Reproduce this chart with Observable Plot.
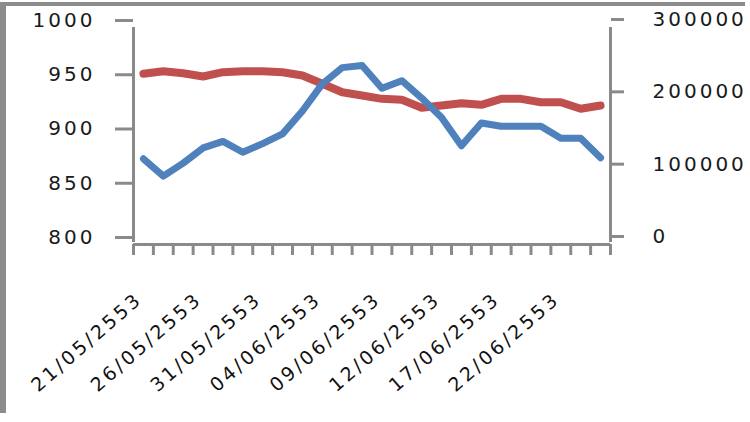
<!DOCTYPE html>
<html>
<head>
<meta charset="utf-8">
<script src="https://cdn.jsdelivr.net/npm/d3@7"></script>
<script src="https://cdn.jsdelivr.net/npm/@observablehq/plot@0.6"></script>
<style>
  html, body { margin: 0; padding: 0; background: #fff; }
  #wrap { position: relative; width: 750px; height: 422px; overflow: hidden; }
  #frame { position: absolute; left: 0; top: 2px; width: 745px; height: 411px;
           border-top: 4px solid #8c8c8c; border-left: 6px solid #8c8c8c; box-sizing: border-box; }
  #chart { position: absolute; left: 0; top: 0; }
  #chart svg text { letter-spacing: 3px; }
</style>
</head>
<body>
<div id="wrap"><div id="frame"></div><div id="chart"></div></div>
<script>
// Category date labels (every 3rd category is labelled)
const dateLabels = ["21/05/2553", "26/05/2553", "31/05/2553", "04/06/2553", "09/06/2553", "12/06/2553", "17/06/2553", "22/06/2553"];
const labelStep = 3;

// Blue series (left axis)
const blueValues = [879, 863, 875, 889, 895, 885, 893, 902, 923, 948, 963, 965, 944, 951, 935, 917, 891, 912, 909, 909, 909, 898, 898, 880];
// Red series (right axis)
const redValues = [236000, 239600, 236800, 232300, 238200, 239600, 239600, 238200, 233600, 222200, 210500, 206000, 201400, 200000, 189000, 192200, 195300, 193100, 201400, 201400, 196700, 196700, 187600, 192200];

const leftTicks = [800, 850, 900, 950, 1000];
const rightTicks = [0, 100000, 200000, 300000];

const n = blueValues.length;
const r2l = d3.scaleLinear([0, 300000], [800, 1000]);

const blueData = blueValues.map((v, i) => ({i, v}));
const redData = redValues.map((v, i) => ({i, v: r2l(v)}));
const labelData = dateLabels.map((label, k) => ({i: k * labelStep, label}));
const boundaries = d3.range(n + 1).map(k => k - 0.5);

const axisGray = "#8a8a8a";

const chart = Plot.plot({
  width: 750,
  height: 422,
  marginLeft: 133,
  marginRight: 140,
  marginTop: 27,
  marginBottom: 178,
  style: {fontFamily: "DejaVu Sans", fontSize: "20px", color: "#1a1a1a", background: "transparent"},
  x: {domain: [-0.5, n - 0.5], label: null},
  y: {domain: [800, 1000], label: null},
  marks: [
    Plot.ruleX([-0.5], {y1: 800, y2: 1000, stroke: axisGray, strokeWidth: 3, insetTop: -2}),
    Plot.ruleX([n - 0.5], {y1: 800, y2: 1000, stroke: axisGray, strokeWidth: 3, insetTop: -2}),
    Plot.ruleY([800], {stroke: axisGray, strokeWidth: 3}),
    Plot.axisY(leftTicks, {anchor: "left", label: null, tickSize: 18, tickPadding: 20, dy: -7,
      stroke: axisGray, strokeWidth: 3, tickFormat: d => String(d), fontSize: 20}),
    Plot.axisY(rightTicks.map(r2l), {anchor: "right", label: null, tickSize: 13, tickPadding: 29, dy: -8,
      stroke: axisGray, strokeWidth: 3, tickFormat: d => String(Math.round(r2l.invert(d))), fontSize: 20}),
    Plot.axisX(boundaries, {anchor: "bottom", label: null, tickSize: 11, stroke: axisGray, strokeWidth: 3, tickFormat: () => ""}),
    Plot.line(redData, {x: "i", y: "v", stroke: "#C0504D", strokeWidth: 8, strokeLinejoin: "round", strokeLinecap: "round"}),
    Plot.line(blueData, {x: "i", y: "v", stroke: "#4F81BD", strokeWidth: 7, strokeLinejoin: "round", strokeLinecap: "round"}),
    Plot.text(labelData, {x: "i", y: 800, text: "label", rotate: -41, textAnchor: "end",
      dx: -4, dy: 52, fontSize: 19, fill: "#111"})
  ]
});
document.getElementById("chart").appendChild(chart);
</script>
</body>
</html>
